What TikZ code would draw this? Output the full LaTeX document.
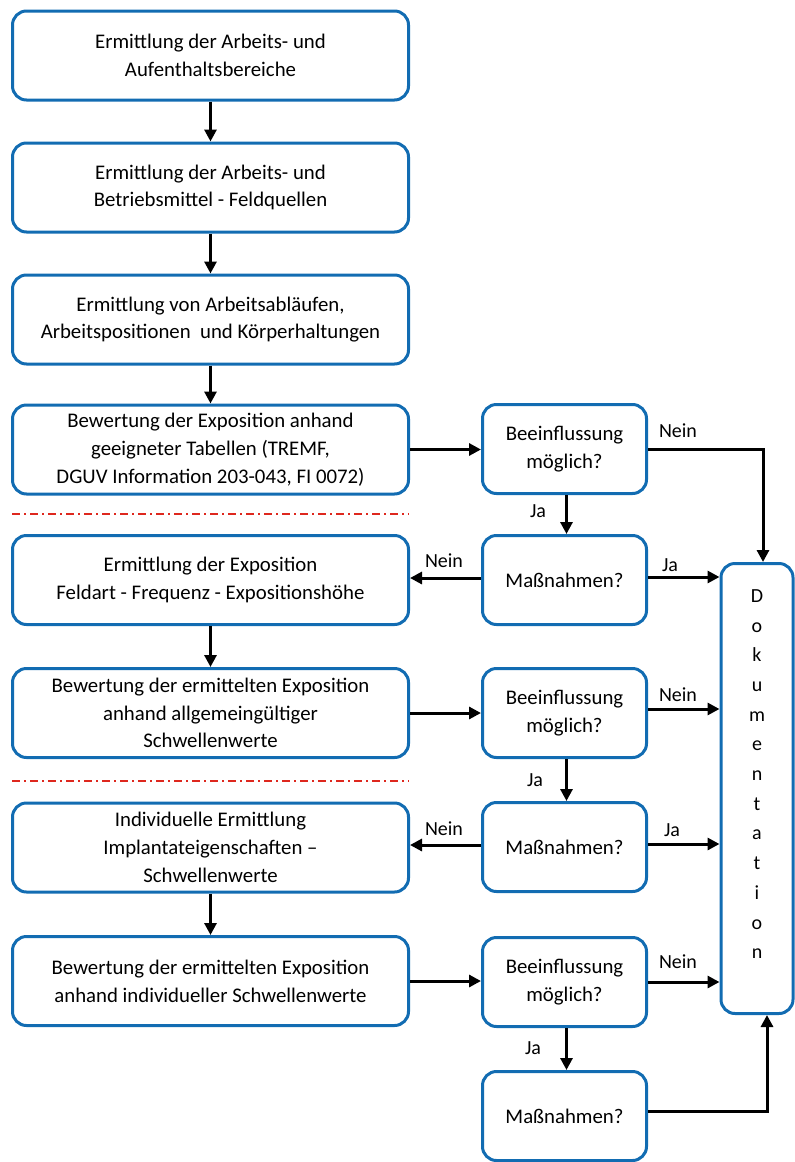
\documentclass[tikz,border=0pt]{standalone}
\usepackage{fontspec}
\setmainfont{Carlito}
\usetikzlibrary{arrows.meta,calc}
\definecolor{boxblue}{RGB}{18,108,178}
\definecolor{dashred}{RGB}{222,40,30}
\tikzset{
  box/.style={draw=boxblue, line width=3pt, rounded corners=14pt, fill=white,
    align=center, inner sep=2pt, font=\fontsize{20.8}{27.8}\selectfont},
  lbox/.style={box, minimum width=396pt, minimum height=89pt},
  mbox/.style={box, minimum width=164pt, minimum height=89pt},
  conn/.style={line width=3pt, -{Triangle[length=12pt,width=12pt]}},
  lbl/.style={font=\fontsize{20}{22}\selectfont, inner sep=0pt},
  sep/.style={dashred, line width=2.2pt, dash pattern=on 8pt off 4pt on 2pt off 4pt}
}
\begin{document}
\begin{tikzpicture}[x=1pt,y=-1pt]
\useasboundingbox (0,0) rectangle (795,1162);
% left column
\node[lbox] (l1) at (210.5,55.5) {Ermittlung der Arbeits- und\\Aufenthaltsbereiche};
\node[lbox] (l2) at (210.5,187.5) {Ermittlung der Arbeits- und\\Betriebsmittel - Feldquellen};
\node[lbox] (l3) at (210.5,319.5) {Ermittlung von Arbeitsabläufen,\\Arbeitspositionen\ \ und Körperhaltungen};
\node[lbox] (l4) at (210.5,449.5) {Bewertung der Exposition anhand\\geeigneter Tabellen (TREMF,\\DGUV Information 203-043, FI 0072)};
\node[lbox] (l5) at (210.5,580) {Ermittlung der Exposition\\Feldart - Frequenz - Expositionshöhe};
\node[lbox] (l6) at (210.5,713) {Bewertung der ermittelten Exposition\\anhand allgemeingültiger\\Schwellenwerte};
\node[lbox] (l7) at (210.5,847.5) {Individuelle Ermittlung\\Implantateigenschaften –\\Schwellenwerte};
\node[lbox] (l8) at (210.5,981) {Bewertung der ermittelten Exposition\\anhand individueller Schwellenwerte};
% middle column
\node[mbox] (b1) at (564.5,449) {Beeinflussung\\möglich?};
\node[mbox] (m1) at (564.5,580) {Maßnahmen?};
\node[mbox] (b2) at (564.5,713) {Beeinflussung\\möglich?};
\node[mbox] (m2) at (564.5,847) {Maßnahmen?};
\node[mbox] (b3) at (564.5,982) {Beeinflussung\\möglich?};
\node[mbox] (m3) at (564.5,1116) {Maßnahmen?};
% documentation
\node[box, minimum width=72pt, minimum height=450pt, anchor=north] (doku) at (757,562) {};
\node[align=center, font=\fontsize{20}{29.7}\selectfont, anchor=north] (dokutext) at ([yshift=-24pt]doku.north) {D\\o\\k\\u\\m\\e\\n\\t\\a\\t\\i\\o\\n};
% separators
\coordinate (s1a) at (12,514); \coordinate (s1b) at (409,514);
\coordinate (s2a) at (12,781); \coordinate (s2b) at (409,781);
\draw[sep] (s1a) -- (s1b);
\draw[sep] (s2a) -- (s2b);
% vertical left arrows
\draw[conn] (l1) -- (l2);
\draw[conn] (l2) -- (l3);
\draw[conn] (l3) -- (l4);
\draw[conn] (l5) -- (l6);
\draw[conn] (l7) -- (l8);
% left to middle
\draw[conn] (l4.east) -- (l4.east -| b1.west);
\draw[conn] (l6.east) -- (l6.east -| b2.west);
\draw[conn] (l8.east) -- (l8.east -| b3.west);
% middle down
\draw[conn] ([xshift=2pt]b1.south) -- ([xshift=2pt]m1.north);
\draw[conn] ([xshift=2pt]b2.south) -- ([xshift=2pt]m2.north);
\draw[conn] ([xshift=2pt]b3.south) -- ([xshift=2pt]m3.north);
% Nein back to left
\draw[conn] ([yshift=2pt]m1.west) -- ([yshift=2pt]m1.west -| l5.east);
\draw[conn] ([yshift=2pt]m2.west) -- ([yshift=2pt]m2.west -| l7.east);
% to documentation
\draw[conn] (b1.east) -| ([xshift=6pt]doku.north);
\draw[conn] ([yshift=3pt]m1.east) -- ([yshift=3pt]m1.east -| doku.west);
\draw[conn] ([yshift=4pt]b2.east) -- ([yshift=4pt]b2.east -| doku.west);
\draw[conn] ([yshift=3pt]m2.east) -- ([yshift=3pt]m2.east -| doku.west);
\draw[conn] (b3.east) -- (b3.east -| doku.west);
\draw[conn] ([yshift=5pt]m3.east) -| ([xshift=10pt]doku.south);
% labels
\node[lbl] (t1) at (678,431) {Nein};
\node[lbl] (t2) at (538,511) {Ja};
\node[lbl] (t3) at (444,561) {Nein};
\node[lbl] (t4) at (670,565) {Ja};
\node[lbl] (t5) at (678,695) {Nein};
\node[lbl] (t6) at (535,780) {Ja};
\node[lbl] (t7) at (444,829) {Nein};
\node[lbl] (t8) at (672,830) {Ja};
\node[lbl] (t9) at (678,962) {Nein};
\node[lbl] (t10) at (533,1048) {Ja};
\end{tikzpicture}
\end{document}
